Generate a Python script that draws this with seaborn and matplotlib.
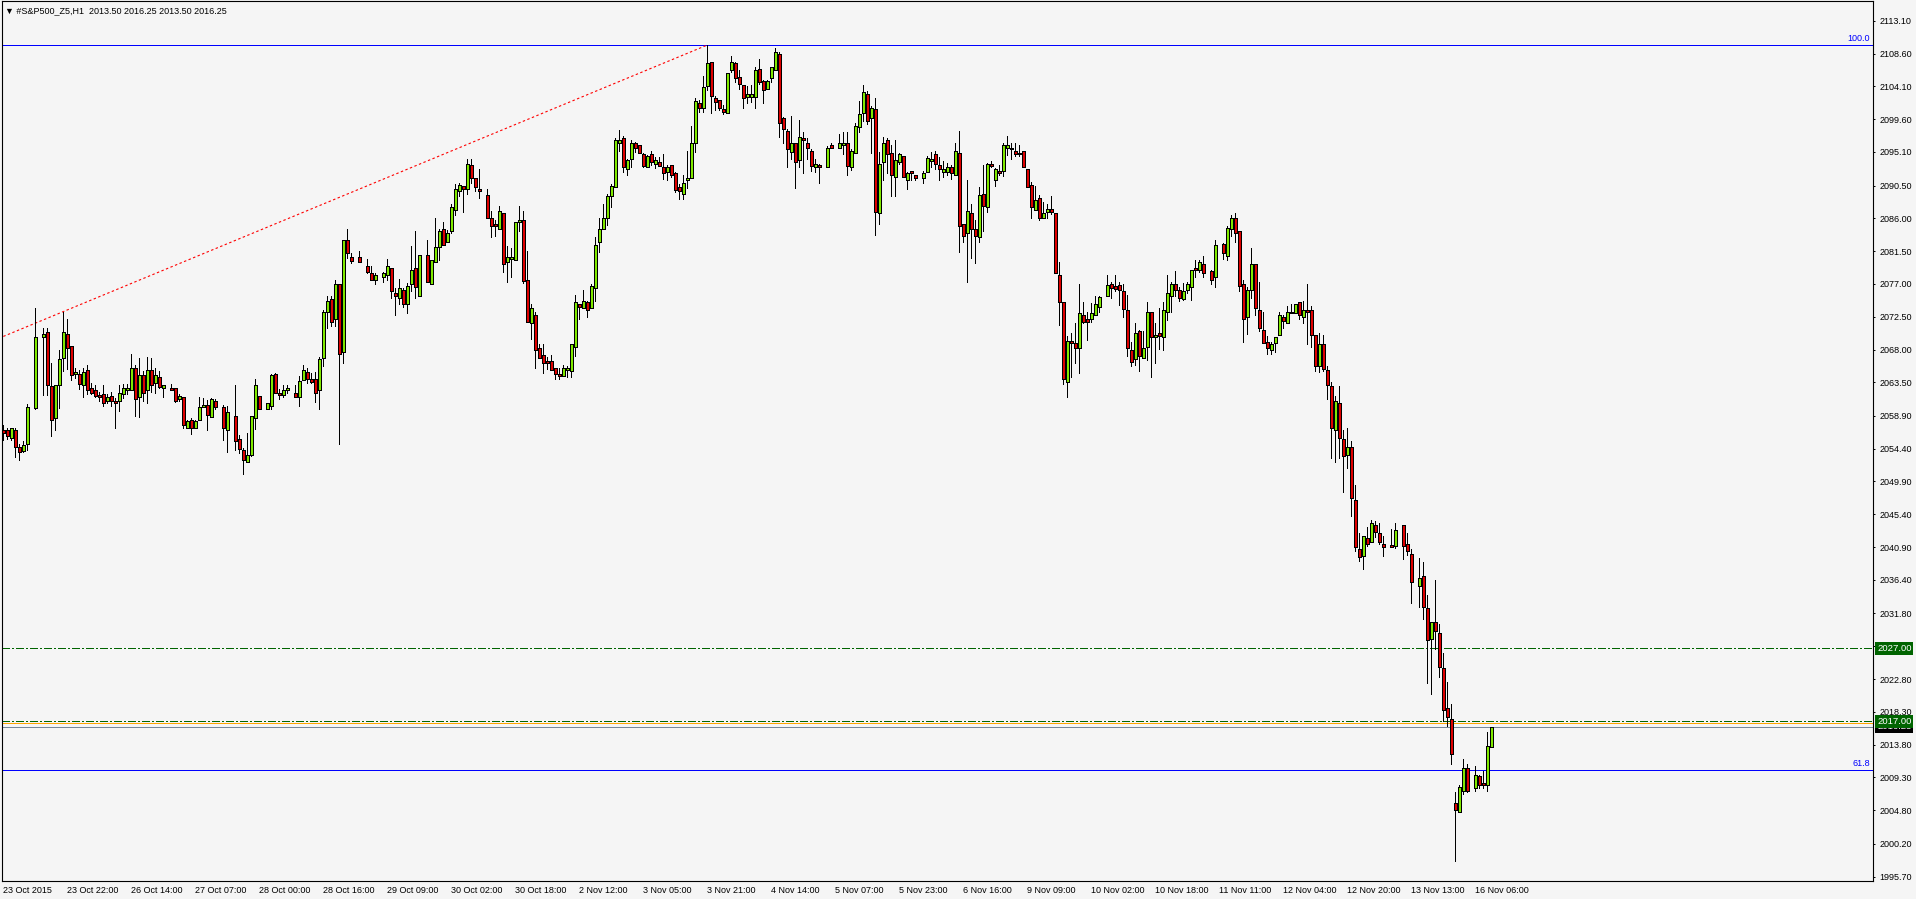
import numpy as np
import pandas as pd
import matplotlib
matplotlib.use("Agg")
import matplotlib.pyplot as plt
import seaborn as sns

nan = np.nan

# #S&P500_Z5 hourly bars, 23 Oct 2015 .. 16 Nov 2015 (nan = slot where no bar is visible)
opens = [
    2057.0, 2057.0, 2055.8, 2057.0, 2054.6, 2054.1, 2055.1, nan, 2060.0, nan,
    2069.7, 2070.4, 2063.0, 2058.6, 2063.1, 2066.9, 2070.2, 2068.5, 2064.6, 2064.7,
    2063.1, 2065.2, 2062.7, 2062.5, 2061.7, 2061.9, 2061.0, 2061.6, 2061.0, 2060.9,
    2061.9, 2062.5, 2062.5, 2065.4, 2061.5, 2064.5, 2062.4, 2065.2, 2063.4, 2064.2,
    2062.7, nan, 2062.7, 2062.7, 2061.2, 2061.5, 2057.3, 2058.4, 2057.3, 2058.4,
    2060.1, 2060.4, 2058.8, 2060.9, nan, 2060.1, 2056.9, nan, 2058.9, 2055.7,
    2054.2, 2052.6, 2053.6, 2058.6, 2061.6, nan, 2059.9, 2060.3, 2064.7, 2062.1,
    2061.8, 2062.4, nan, 2062.1, 2061.5, 2063.8, 2064.9, 2064.0, 2064.0, 2062.5,
    2066.9, 2073.1, 2074.9, 2072.2, 2077.0, 2067.6, 2083.0, 2080.7, nan, 2080.7,
    nan, 2079.5, 2078.5, 2077.6, nan, 2077.9, 2078.2, 2079.2, 2075.8, 2075.1,
    2076.2, 2074.2, 2077.0, 2079.2, 2075.4, nan, 2081.0, 2077.0, 2080.0, 2082.1,
    2084.5, 2082.7, 2084.2, 2087.2, 2089.8, 2090.4, 2090.0, 2093.3, 2091.5, 2090.0,
    nan, 2089.2, 2086.1, 2085.2, 2084.6, 2086.7, 2080.0, 2080.4, 2080.3, 2085.5,
    2085.8, 2077.6, 2071.6, 2072.8, 2068.2, 2067.3, 2066.4, 2066.4, 2065.4, 2064.6,
    2064.4, 2065.2, 2065.1, 2068.4, 2074.3, 2073.7, 2074.5, 2073.7, 2076.4, 2082.7,
    2084.5, 2086.1, 2089.0, 2090.3, 2096.4, 2097.0, 2092.7, 2094.2, 2096.4, 2096.0,
    2094.8, 2093.0, 2094.8, 2093.5, 2093.7, 2093.0, 2092.4, 2093.3, 2092.2, 2090.3,
    2089.4, 2091.2, 2091.5, 2096.4, 2101.8, 2101.2, 2104.2, 2107.5, 2102.5, 2102.2,
    2101.0, 2100.5, 2106.3, 2107.3, 2105.4, 2104.3, 2102.7, 2102.7, 2102.7, 2106.5,
    2104.9, 2103.7, 2105.2, 2106.4, 2108.5, 2099.7, 2098.0, 2095.1, 2096.4, 2094.0,
    2097.0, 2096.4, 2095.2, 2093.0, 2093.3, nan, 2093.0, 2096.1, nan, 2095.7,
    2096.0, 2096.3, 2093.0, 2094.9, 2098.5, 2100.5, 2103.1, 2099.7, 2101.0, 2086.7,
    2093.7, 2096.7, 2094.9, 2091.7, 2093.7, 2094.6, 2091.2, 2092.5, 2091.9, nan,
    2091.5, 2092.4, 2093.9, 2094.8, 2093.3, 2092.4, 2092.4, 2093.0, 2091.9, 2094.9,
    2085.2, 2084.0, 2086.7, 2084.6, 2083.4, 2089.4, 2087.5, 2093.5, 2091.2, 2092.5,
    2092.5, 2095.7, 2095.7, 2095.2, 2095.0, 2095.2, 2092.8, 2090.6, 2087.2, 2088.8,
    2086.0, 2086.9, 2087.3, 2086.7, 2078.2, 2074.5, 2063.6, 2069.2, 2068.9, 2068.2,
    2072.7, 2072.2, 2072.2, 2072.7, 2073.9, nan, 2075.4, 2077.0, 2076.7, 2076.8,
    2076.0, 2073.4, 2067.9, 2066.7, 2070.5, 2066.9, 2068.4, 2073.1, 2069.7, 2070.3,
    2069.7, 2073.1, 2075.4, 2077.0, 2076.2, 2074.9, 2076.1, 2076.6, 2079.2, 2078.9,
    2079.7, nan, 2078.8, 2077.9, nan, 2082.5, 2080.9, 2084.5, 2086.0, 2084.3,
    2077.0, 2072.4, 2076.2, 2079.7, 2073.4, 2070.7, 2069.1, 2068.0, 2068.9, 2070.0,
    2072.4, 2071.6, 2073.1, 2073.0, 2074.5, 2072.4, 2073.4, 2073.4, 2070.0, 2065.8,
    2068.7, 2065.2, 2063.0, 2057.0, 2060.7, 2055.7, 2053.6, 2054.6, 2047.4, 2040.6,
    2039.7, 2042.1, 2041.6, 2043.9, 2042.9, 2041.3, nan, 2041.2, 2041.1, nan,
    2043.9, 2041.3, 2040.0, nan, 2035.5, 2036.9, 2032.5, 2028.3, 2030.6, 2029.1,
    2024.3, 2018.8, 2017.3, 2005.8, 2004.5, 2007.5, 2010.6, nan, 2007.8, 2009.5,
    2008.5, 2008.2, 2013.5,
]
highs = [
    2057.7, 2057.2, 2057.3, 2057.2, 2055.1, 2055.4, 2060.5, nan, 2073.7, nan,
    2070.9, 2070.9, 2066.1, 2063.1, 2067.9, 2073.1, 2072.2, 2068.5, 2065.5, 2065.2,
    2065.5, 2065.9, 2063.4, 2063.1, 2062.2, 2063.1, 2061.9, 2062.2, 2061.3, 2063.1,
    2063.3, 2063.3, 2067.4, 2065.9, 2066.9, 2065.0, 2067.0, 2066.9, 2065.4, 2065.0,
    2063.1, nan, 2063.3, 2062.7, 2061.9, 2061.5, 2058.3, 2058.6, 2058.3, 2061.5,
    2061.3, 2061.1, 2061.3, 2061.2, nan, 2060.4, 2060.2, nan, 2063.1, 2056.3,
    2054.5, 2056.5, 2058.9, 2063.9, 2061.6, nan, 2060.7, 2064.6, 2064.8, 2062.6,
    2063.1, 2063.1, nan, 2063.1, 2064.4, 2065.9, 2065.4, 2064.8, 2064.9, 2067.0,
    2073.4, 2075.3, 2075.3, 2077.6, 2077.0, 2083.0, 2084.6, 2081.2, nan, 2081.5,
    nan, 2080.4, 2079.5, 2078.5, nan, 2078.7, 2080.4, 2079.2, 2076.4, 2077.7,
    2076.4, 2077.1, 2082.2, 2084.3, 2081.0, nan, 2083.0, 2080.3, 2086.0, 2084.5,
    2085.5, 2084.4, 2088.0, 2090.7, 2090.9, 2090.4, 2094.2, 2094.2, 2091.5, 2092.8,
    nan, 2090.0, 2087.0, 2085.8, 2087.7, 2086.7, 2082.2, 2081.9, 2085.5, 2087.7,
    2087.0, 2081.5, 2074.3, 2073.1, 2068.8, 2068.8, 2067.0, 2067.3, 2065.5, 2065.4,
    2065.9, 2065.8, 2068.8, 2075.5, 2074.3, 2076.2, 2074.7, 2077.0, 2083.4, 2086.1,
    2088.0, 2089.4, 2090.7, 2097.0, 2098.1, 2097.3, 2094.2, 2096.7, 2096.5, 2096.1,
    2095.0, 2094.7, 2095.2, 2094.4, 2094.4, 2094.8, 2093.3, 2093.3, 2092.3, 2090.7,
    2091.9, 2095.2, 2098.6, 2102.5, 2102.2, 2105.5, 2109.8, 2107.5, 2102.8, 2102.2,
    2101.5, 2106.0, 2108.3, 2107.5, 2106.3, 2104.3, 2104.1, 2104.3, 2106.7, 2107.9,
    2105.0, 2105.0, 2106.8, 2109.3, 2108.8, 2099.9, 2098.2, 2100.0, 2096.4, 2099.5,
    2097.8, 2097.0, 2095.5, 2094.2, 2093.4, nan, 2095.9, 2096.3, nan, 2097.6,
    2097.8, 2097.9, 2095.5, 2099.1, 2102.1, 2104.3, 2103.4, 2101.4, 2102.5, 2095.1,
    2097.1, 2097.0, 2096.1, 2096.7, 2095.0, 2094.6, 2092.4, 2092.5, 2092.0, nan,
    2092.5, 2094.6, 2095.1, 2095.3, 2094.4, 2093.8, 2093.6, 2093.3, 2096.3, 2098.0,
    2085.2, 2091.3, 2088.0, 2085.8, 2090.3, 2093.3, 2093.6, 2093.8, 2092.9, 2093.3,
    2096.4, 2097.3, 2096.3, 2096.3, 2096.1, 2095.2, 2092.8, 2091.0, 2090.4, 2089.2,
    2088.3, 2088.0, 2089.1, 2086.7, 2080.0, 2074.5, 2069.8, 2070.3, 2071.7, 2077.0,
    2074.5, 2073.2, 2074.4, 2075.3, 2075.3, nan, 2078.2, 2077.3, 2078.2, 2077.3,
    2077.0, 2075.5, 2069.1, 2071.6, 2070.7, 2070.6, 2074.5, 2073.2, 2071.7, 2073.7,
    2074.5, 2078.2, 2077.3, 2078.8, 2076.6, 2077.1, 2077.2, 2078.9, 2080.3, 2080.3,
    2080.8, nan, 2078.9, 2083.0, nan, 2082.6, 2085.0, 2086.5, 2086.7, 2084.3,
    2077.6, 2076.6, 2081.9, 2079.7, 2077.3, 2073.1, 2069.8, 2069.0, 2069.7, 2073.1,
    2072.8, 2074.0, 2074.3, 2074.2, 2074.5, 2074.7, 2077.0, 2074.0, 2070.0, 2070.3,
    2070.0, 2065.8, 2063.5, 2061.6, 2063.0, 2057.0, 2057.3, 2055.5, 2049.4, 2042.8,
    2042.4, 2043.7, 2044.6, 2044.5, 2044.2, 2042.4, nan, 2043.4, 2044.2, nan,
    2043.9, 2042.9, 2040.6, nan, 2039.4, 2038.8, 2034.3, 2030.6, 2036.4, 2030.4,
    2026.4, 2022.4, 2019.4, 2007.3, 2008.3, 2011.8, 2011.2, nan, 2010.9, 2009.7,
    2010.2, 2015.5, 2016.25,
]
lows = [
    2055.6, 2055.7, 2055.6, 2053.3, 2052.8, 2053.9, 2054.2, nan, 2059.9, nan,
    2061.8, 2061.8, 2056.1, 2056.9, 2060.0, 2065.1, 2065.3, 2063.8, 2064.1, 2062.6,
    2061.5, 2061.9, 2061.9, 2061.5, 2060.9, 2060.3, 2060.6, 2060.3, 2057.2, 2059.6,
    2061.3, 2061.9, 2062.4, 2058.9, 2058.8, 2061.0, 2060.6, 2062.2, 2062.1, 2062.7,
    2061.5, nan, 2062.4, 2060.8, 2060.9, 2057.2, 2057.3, 2056.4, 2057.2, 2058.3,
    2060.1, 2056.9, 2058.8, 2059.9, nan, 2055.6, 2053.9, nan, 2054.2, 2053.8,
    2050.9, 2052.6, 2053.4, 2057.1, 2059.9, nan, 2059.9, 2059.9, 2062.1, 2061.2,
    2061.5, 2062.1, nan, 2061.5, 2060.3, 2063.8, 2063.4, 2063.4, 2060.8, 2059.9,
    2065.7, 2070.9, 2071.2, 2071.2, 2055.1, 2066.1, 2080.6, 2079.9, nan, 2080.0,
    nan, 2078.5, 2077.6, 2077.0, nan, 2077.2, 2077.5, 2075.1, 2072.7, 2074.2,
    2073.9, 2073.0, 2076.0, 2075.1, 2075.4, nan, 2077.2, 2077.0, 2080.0, 2080.3,
    2082.4, 2082.7, 2084.0, 2086.4, 2089.0, 2086.9, 2089.4, 2090.9, 2089.7, 2088.8,
    nan, 2086.1, 2083.4, 2083.6, 2084.6, 2078.7, 2077.2, 2077.9, 2080.3, 2084.3,
    2077.1, 2071.8, 2069.4, 2065.4, 2066.9, 2064.8, 2065.3, 2065.2, 2063.9, 2063.9,
    2064.4, 2064.2, 2064.2, 2067.1, 2072.2, 2073.7, 2072.4, 2073.7, 2074.6, 2081.4,
    2084.5, 2085.1, 2087.5, 2090.3, 2095.2, 2092.4, 2092.0, 2093.0, 2095.1, 2094.9,
    2093.0, 2093.0, 2093.3, 2092.9, 2093.2, 2091.4, 2091.2, 2091.7, 2089.6, 2088.7,
    2088.7, 2090.2, 2091.5, 2095.1, 2100.6, 2100.6, 2103.6, 2100.5, 2100.9, 2100.9,
    2100.3, 2100.5, 2106.1, 2104.7, 2103.7, 2101.2, 2101.8, 2102.0, 2101.2, 2104.4,
    2101.8, 2103.7, 2104.7, 2106.4, 2097.2, 2096.3, 2093.0, 2094.2, 2090.2, 2093.1,
    2092.2, 2094.2, 2092.5, 2092.4, 2090.9, nan, 2093.0, 2095.6, nan, 2095.7,
    2094.8, 2091.9, 2092.6, 2094.9, 2097.8, 2099.4, 2099.0, 2094.9, 2083.7, 2085.2,
    2091.3, 2092.2, 2089.0, 2089.1, 2093.4, 2091.6, 2090.0, 2091.2, 2091.2, nan,
    2090.9, 2092.3, 2093.0, 2092.8, 2091.3, 2091.7, 2091.9, 2091.4, 2091.9, 2081.4,
    2082.7, 2077.2, 2080.6, 2079.9, 2082.7, 2084.2, 2086.9, 2093.1, 2090.5, 2091.9,
    2091.8, 2094.7, 2094.2, 2094.5, 2094.5, 2093.0, 2090.3, 2086.1, 2087.2, 2085.8,
    2086.0, 2086.1, 2086.6, 2078.5, 2071.4, 2063.3, 2061.5, 2064.2, 2066.1, 2064.8,
    2071.7, 2069.3, 2071.8, 2072.7, 2073.1, nan, 2075.4, 2075.1, 2076.0, 2074.1,
    2072.4, 2067.1, 2065.8, 2065.9, 2065.1, 2066.9, 2066.6, 2064.2, 2066.1, 2068.1,
    2067.9, 2072.1, 2073.1, 2075.3, 2074.6, 2074.8, 2075.7, 2074.8, 2077.9, 2078.7,
    2078.0, nan, 2077.0, 2076.6, nan, 2080.4, 2080.3, 2083.6, 2082.7, 2076.0,
    2069.1, 2070.2, 2075.1, 2072.7, 2070.6, 2068.9, 2067.4, 2067.4, 2067.6, 2070.0,
    2070.9, 2071.6, 2073.0, 2073.0, 2072.2, 2071.6, 2068.7, 2068.4, 2065.1, 2064.9,
    2065.1, 2061.2, 2053.1, 2052.6, 2053.1, 2048.5, 2051.8, 2045.1, 2040.3, 2039.0,
    2037.9, 2041.1, 2041.6, 2042.3, 2041.3, 2039.7, nan, 2040.9, 2040.8, nan,
    2039.3, 2039.8, 2033.3, nan, 2032.7, 2031.1, 2022.3, 2020.8, 2026.9, 2023.1,
    2017.0, 2016.3, 2011.2, 1997.9, 2004.5, 2007.1, 2007.3, nan, 2007.5, 2007.8,
    2007.8, 2007.5, 2013.5,
]
closes = [
    2056.6, 2056.1, 2057.2, 2054.6, 2053.9, 2054.9, 2060.1, nan, 2069.7, nan,
    2070.2, 2063.1, 2058.4, 2063.1, 2066.7, 2070.4, 2068.2, 2064.5, 2064.9, 2063.3,
    2064.9, 2062.4, 2062.1, 2061.6, 2061.5, 2060.6, 2061.5, 2060.9, 2060.6, 2062.1,
    2062.7, 2062.7, 2065.4, 2061.2, 2064.5, 2062.1, 2065.2, 2063.1, 2064.5, 2062.9,
    2063.1, nan, 2062.5, 2060.9, 2061.6, 2057.6, 2058.2, 2057.2, 2058.2, 2060.1,
    2060.4, 2059.0, 2061.2, 2060.1, nan, 2057.2, 2059.4, nan, 2055.4, 2054.3,
    2052.8, 2053.6, 2058.9, 2063.1, 2059.9, nan, 2060.6, 2064.5, 2062.1, 2061.8,
    2062.5, 2062.7, nan, 2061.5, 2063.7, 2065.2, 2063.9, 2063.6, 2062.1, 2066.7,
    2073.1, 2074.6, 2071.8, 2077.0, 2067.4, 2083.0, 2081.2, 2080.2, nan, 2080.0,
    nan, 2078.7, 2077.6, 2078.2, nan, 2078.5, 2079.5, 2076.0, 2075.4, 2076.4,
    2074.2, 2076.7, 2078.9, 2076.6, 2081.0, nan, 2077.2, 2080.3, 2082.0, 2084.3,
    2082.4, 2084.0, 2087.5, 2090.0, 2090.6, 2090.0, 2093.4, 2091.5, 2090.3, 2089.7,
    nan, 2086.1, 2084.9, 2084.9, 2087.0, 2079.7, 2080.7, 2080.7, 2085.5, 2085.8,
    2077.4, 2071.8, 2073.7, 2067.9, 2066.9, 2066.1, 2066.1, 2065.2, 2064.6, 2064.4,
    2065.4, 2065.5, 2068.8, 2074.5, 2073.9, 2074.7, 2073.4, 2076.7, 2082.4, 2084.6,
    2086.0, 2089.1, 2090.5, 2096.8, 2096.8, 2093.0, 2094.0, 2096.3, 2095.7, 2094.9,
    2093.2, 2094.6, 2093.7, 2094.0, 2093.2, 2092.2, 2093.1, 2091.9, 2089.9, 2089.7,
    2090.9, 2091.5, 2096.3, 2102.1, 2101.2, 2104.0, 2107.3, 2102.8, 2102.0, 2101.2,
    2100.6, 2106.0, 2107.5, 2105.2, 2104.4, 2102.5, 2103.0, 2103.0, 2106.3, 2104.7,
    2103.6, 2104.9, 2106.7, 2108.8, 2099.1, 2098.2, 2095.5, 2096.3, 2093.7, 2097.2,
    2096.7, 2095.7, 2093.2, 2093.4, 2093.0, nan, 2095.7, 2095.7, nan, 2096.3,
    2096.4, 2093.2, 2095.2, 2098.7, 2100.3, 2103.3, 2099.4, 2101.2, 2086.9, 2093.5,
    2096.4, 2094.8, 2091.9, 2094.0, 2094.8, 2091.7, 2092.2, 2092.2, 2091.5, nan,
    2092.2, 2094.3, 2094.2, 2093.4, 2092.8, 2092.7, 2093.0, 2092.2, 2095.2, 2084.9,
    2083.6, 2087.0, 2084.5, 2083.6, 2089.2, 2087.7, 2093.5, 2093.2, 2092.8, 2092.2,
    2096.1, 2096.1, 2095.5, 2094.8, 2094.8, 2093.0, 2090.3, 2087.5, 2088.5, 2086.0,
    2086.7, 2087.3, 2086.9, 2078.5, 2074.5, 2063.9, 2069.2, 2068.9, 2068.2, 2073.0,
    2071.8, 2071.8, 2073.0, 2074.3, 2075.2, nan, 2076.8, 2076.4, 2076.3, 2076.1,
    2073.6, 2068.2, 2066.3, 2070.3, 2067.1, 2068.2, 2073.1, 2069.7, 2070.0, 2069.9,
    2073.4, 2075.7, 2077.0, 2076.1, 2075.1, 2076.0, 2077.0, 2078.9, 2078.9, 2080.0,
    2078.5, nan, 2077.6, 2082.4, nan, 2081.2, 2084.7, 2086.1, 2084.0, 2076.7,
    2072.2, 2076.2, 2079.7, 2073.7, 2070.9, 2068.9, 2068.2, 2068.7, 2069.7, 2072.8,
    2071.9, 2073.1, 2073.0, 2074.2, 2072.7, 2073.4, 2073.1, 2070.0, 2065.8, 2068.7,
    2065.3, 2063.1, 2057.2, 2061.0, 2055.8, 2053.4, 2054.6, 2047.6, 2040.9, 2039.6,
    2042.4, 2041.3, 2044.2, 2043.0, 2041.6, 2040.9, nan, 2040.9, 2043.3, nan,
    2041.1, 2040.3, 2036.1, nan, 2036.6, 2032.7, 2028.1, 2030.6, 2029.4, 2024.5,
    2018.5, 2017.6, 2012.5, 2004.8, 2008.0, 2010.6, 2007.5, nan, 2009.7, 2008.2,
    2008.2, 2013.6, 2016.25,
]

time_labels = [
    "23 Oct 2015", "23 Oct 22:00", "26 Oct 14:00", "27 Oct 07:00", "28 Oct 00:00",
    "28 Oct 16:00", "29 Oct 09:00", "30 Oct 02:00", "30 Oct 18:00", "2 Nov 12:00",
    "3 Nov 05:00", "3 Nov 21:00", "4 Nov 14:00", "5 Nov 07:00", "5 Nov 23:00",
    "6 Nov 16:00", "9 Nov 09:00", "10 Nov 02:00", "10 Nov 18:00", "11 Nov 11:00",
    "12 Nov 04:00", "12 Nov 20:00", "13 Nov 13:00", "16 Nov 06:00",
]
bars_per_label = 16

price_ticks = [
    2113.10, 2108.60, 2104.10, 2099.60, 2095.10, 2090.50, 2086.00, 2081.50, 2077.00,
    2072.50, 2068.00, 2063.50, 2058.90, 2054.40, 2049.90, 2045.40, 2040.90, 2036.40,
    2031.80, 2027.30, 2022.80, 2018.30, 2013.80, 2009.30, 2004.80, 2000.20, 1995.70,
]

# fibo levels, trend line, horizontal lines
fib_levels = [2109.77, 2010.30]
fib_names = ["100.0", "61.8"]
trend_bar = [0, 176]
trend_price = [2069.8, 2109.77]
level_lines = [2027.00, 2017.00]
orange_line = 2016.75
bid = 2016.25
header = "\u25BC #S&P500_Z5,H1  2013.50 2016.25 2013.50 2016.25"

# -----------------------------------
# style
# -----------------------------------
sns.set_style("white")
plt.rcParams["font.family"] = ["Liberation Sans", "DejaVu Sans"]

bg = "#F5F5F5"
bull = "#7FE800"
bear = "#DD0000"
dark_green = "#006400"
fs = 6.5
lw = 0.7   # ~1 px

df = pd.DataFrame({"open": opens, "high": highs, "low": lows, "close": closes})
df["bar"] = np.arange(len(df))
df = df.dropna()
up = df["close"] >= df["open"]

fig = plt.figure(figsize=(19.16, 8.99), dpi=100, facecolor=bg)
ax = fig.add_axes([2 / 1916, 1 - 881 / 899, 1871 / 1916, 880 / 899])
ax.set_facecolor(bg)

# wicks then bodies
ax.vlines(df["bar"], df["low"], df["high"], color="black", lw=lw,
          antialiased=False, zorder=3)
body_low = np.minimum(df["open"], df["close"])
body_h = (df["close"] - df["open"]).abs()
ax.bar(df["bar"], body_h, bottom=body_low, width=0.62,
       color=np.where(up, bull, bear), edgecolor="black", linewidth=lw,
       antialiased=False, zorder=4)

# fibo lines
for lvl, name in zip(fib_levels, fib_names):
    ax.axhline(lvl, color="#0000FF", lw=lw, antialiased=False, zorder=2)
    ax.text(0.9985, lvl + 0.3, name, transform=ax.get_yaxis_transform(),
            ha="right", va="bottom", color="#0000FF", fontsize=fs)

# trend line
sns.lineplot(x=trend_bar, y=trend_price, ax=ax, color="red", lw=0.8,
             linestyle=(0, (2.2, 2.2)), zorder=2)

# horizontal levels
for lvl in level_lines:
    ax.axhline(lvl, color=dark_green, lw=lw, linestyle=(0, (8, 2.5, 2, 2.5)),
               antialiased=False, zorder=2)
ax.axhline(orange_line, color="#FFA500", lw=lw, antialiased=False, zorder=2)
ax.axhline(bid, color="#778899", lw=lw, antialiased=False, zorder=2)

# price boxes on the right scale
box_x = 1.0022
ax.text(box_x, bid, f"{bid:.2f}", transform=ax.get_yaxis_transform(), ha="left",
        va="center", fontsize=fs + 0.3, color="white", clip_on=False, zorder=6,
        bbox=dict(boxstyle="square,pad=0.18", fc="black", ec="none"))
for lvl in level_lines:
    ax.text(box_x, lvl, f"{lvl:.2f}", transform=ax.get_yaxis_transform(), ha="left",
            va="center", fontsize=fs + 0.3, color="white", clip_on=False, zorder=7,
            bbox=dict(boxstyle="square,pad=0.18", fc=dark_green, ec="none"))

# axes
ax.set_xlim(-0.33, 467.4)
ax.set_ylim(1995.10, 2115.81)
ax.set_xticks(np.arange(len(time_labels)) * bars_per_label)
ax.set_xticklabels(time_labels, ha="left")
ax.yaxis.tick_right()
ax.set_yticks(price_ticks)
ax.set_yticklabels([f"{v:.2f}" for v in price_ticks])
ax.tick_params(axis="x", direction="out", length=2.2, width=lw, pad=1.5,
               labelsize=fs, colors="black")
ax.tick_params(axis="y", direction="out", length=1.5, width=lw, pad=3,
               labelsize=fs, colors="black")
for s in ax.spines.values():
    s.set_color("black")
    s.set_linewidth(0.8)
ax.set_xlabel("")
ax.set_ylabel("")

fig.text(5 / 1916, 1 - 11 / 899, header, fontsize=fs, va="center", ha="left",
         color="black")

fig.savefig("out.png", dpi=100, facecolor=bg)
